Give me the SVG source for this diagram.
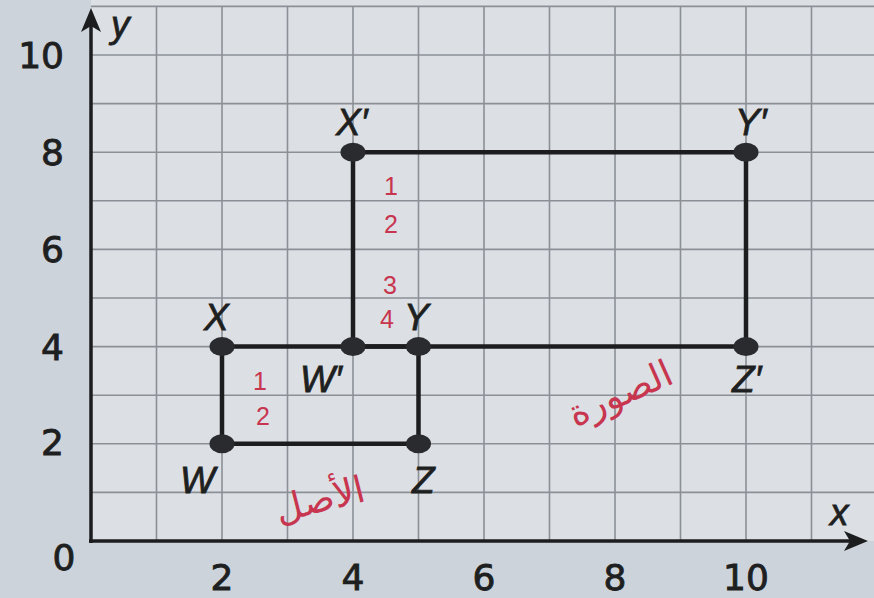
<svg xmlns="http://www.w3.org/2000/svg" width="874" height="598" viewBox="0 0 874 598">
<style>
.grid line{stroke:#8b9097;stroke-width:1.6}
.edge{stroke:#1c1d1f;stroke-width:4.5;fill:none}
.dot{fill:#2a2b2e}
.lbl{font-family:"Liberation Sans",Arial,sans-serif;font-style:italic;font-size:37px;fill:#1e1f21;stroke:#1e1f21;stroke-width:0.8}
.num{font-family:"DejaVu Sans",sans-serif;font-size:36px;fill:#1e1f21;stroke:#1e1f21;stroke-width:0.9}
.red{font-family:"Liberation Sans",sans-serif;font-size:25px;fill:#c8354f}
</style>
<rect width="874" height="598" fill="#cdd3da"/>
<rect x="91" y="0" width="783" height="541" fill="#dce0e4"/>
<g class="grid">
<line x1="91" y1="492.4" x2="874" y2="492.4"/>
<line x1="91" y1="443.8" x2="874" y2="443.8"/>
<line x1="91" y1="395.2" x2="874" y2="395.2"/>
<line x1="91" y1="346.6" x2="874" y2="346.6"/>
<line x1="91" y1="298" x2="874" y2="298"/>
<line x1="91" y1="249.4" x2="874" y2="249.4"/>
<line x1="91" y1="200.8" x2="874" y2="200.8"/>
<line x1="91" y1="152.2" x2="874" y2="152.2"/>
<line x1="91" y1="103.6" x2="874" y2="103.6"/>
<line x1="91" y1="55" x2="874" y2="55"/>
<line x1="91" y1="6.4" x2="874" y2="6.4"/>
<line x1="156.5" y1="6.4" x2="156.5" y2="541"/>
<line x1="222" y1="6.4" x2="222" y2="541"/>
<line x1="287.5" y1="6.4" x2="287.5" y2="541"/>
<line x1="353" y1="6.4" x2="353" y2="541"/>
<line x1="418.5" y1="6.4" x2="418.5" y2="541"/>
<line x1="484" y1="6.4" x2="484" y2="541"/>
<line x1="549.5" y1="6.4" x2="549.5" y2="541"/>
<line x1="615" y1="6.4" x2="615" y2="541"/>
<line x1="680.5" y1="6.4" x2="680.5" y2="541"/>
<line x1="746" y1="6.4" x2="746" y2="541"/>
<line x1="811.5" y1="6.4" x2="811.5" y2="541"/>
</g>
<g id="axes">
<line x1="91" y1="543" x2="91" y2="20" stroke="#1c1d1f" stroke-width="3.5"/>
<polygon points="91,8 101,32 91,26 81,32" fill="#1c1d1f"/>
<line x1="89" y1="541" x2="856" y2="541" stroke="#1c1d1f" stroke-width="3.5"/>
<polygon points="868,541 844,531 850,541 844,551" fill="#1c1d1f"/>
<text class="lbl" x="111" y="37">y</text>
<text class="lbl" x="830" y="525">x</text>
</g>
<g id="ticks" class="num">
<text x="64" y="570" text-anchor="middle">0</text>
<text x="222" y="590" text-anchor="middle">2</text>
<text x="353" y="590" text-anchor="middle">4</text>
<text x="484" y="590" text-anchor="middle">6</text>
<text x="615" y="590" text-anchor="middle">8</text>
<text x="746" y="590" text-anchor="middle">10</text>
<text x="64" y="455" text-anchor="end">2</text>
<text x="64" y="360" text-anchor="end">4</text>
<text x="64" y="262" text-anchor="end">6</text>
<text x="64" y="165" text-anchor="end">8</text>
<text x="64" y="68" text-anchor="end">10</text>
</g>
<g id="connectors">
<line class="edge" x1="222" y1="443.8" x2="222" y2="346.6"/>
<line class="edge" x1="222" y1="346.6" x2="418.5" y2="346.6"/>
<line class="edge" x1="418.5" y1="346.6" x2="418.5" y2="443.8"/>
<line class="edge" x1="418.5" y1="443.8" x2="222" y2="443.8"/>
<line class="edge" x1="353" y1="346.6" x2="353" y2="152.2"/>
<line class="edge" x1="353" y1="152.2" x2="746" y2="152.2"/>
<line class="edge" x1="746" y1="152.2" x2="746" y2="346.6"/>
<line class="edge" x1="746" y1="346.6" x2="353" y2="346.6"/>
</g>
<g id="W"><ellipse class="dot" cx="222" cy="443.8" rx="12.5" ry="9.5"/><text class="lbl" x="180" y="493">W</text></g>
<g id="X"><ellipse class="dot" cx="222" cy="346.6" rx="12.5" ry="9.5"/><text class="lbl" x="204" y="330">X</text></g>
<g id="Y"><ellipse class="dot" cx="418.5" cy="346.6" rx="12.5" ry="9.5"/><text class="lbl" x="404" y="330">Y</text></g>
<g id="Z"><ellipse class="dot" cx="418.5" cy="443.8" rx="12.5" ry="9.5"/><text class="lbl" x="412" y="493">Z</text></g>
<g id="W-prime"><ellipse class="dot" cx="353" cy="346.6" rx="12.5" ry="9.5"/><text class="lbl" x="300" y="392">W′</text></g>
<g id="X-prime"><ellipse class="dot" cx="353" cy="152.2" rx="12.5" ry="9.5"/><text class="lbl" x="336" y="135">X′</text></g>
<g id="Y-prime"><ellipse class="dot" cx="746" cy="152.2" rx="12.5" ry="9.5"/><text class="lbl" x="735" y="135">Y′</text></g>
<g id="Z-prime"><ellipse class="dot" cx="746" cy="346.6" rx="12.5" ry="9.5"/><text class="lbl" x="732" y="392">Z′</text></g>
<g id="notes" class="red" text-anchor="middle">
<text x="391" y="195">1</text>
<text x="391" y="233">2</text>
<text x="390" y="294">3</text>
<text x="387" y="328">4</text>
<text x="260" y="390">1</text>
<text x="263" y="425">2</text>
<text x="320" y="512" font-family="DejaVu Sans,sans-serif" font-size="37" transform="rotate(-14 320 500)">الأصل</text>
<text x="620" y="406" font-family="DejaVu Sans,sans-serif" font-size="37" transform="rotate(-24 620 393)">الصورة</text>
</g>
</svg>
